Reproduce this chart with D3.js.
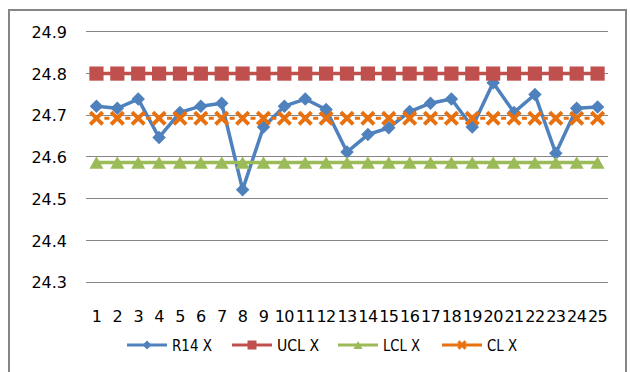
<!DOCTYPE html>
<html>
<head>
<meta charset="utf-8">
<script src="https://cdn.jsdelivr.net/npm/d3@7"></script>
<style>
  html, body { margin: 0; padding: 0; background: #fff; }
  svg { display: block; }
  svg text { font-family: "DejaVu Sans", "Liberation Sans", sans-serif; }
</style>
</head>
<body>
<svg id="chart" width="630" height="372"></svg>
<script>
// Subgroup numbers along the x axis
const categories = d3.range(1, 26).map(String);

// Measured subgroup means (R14 X)
const r14Values = [
  24.72, 24.715, 24.737, 24.645, 24.705, 24.72, 24.727, 24.52, 24.67, 24.72,
  24.737, 24.712, 24.61, 24.652, 24.668, 24.707, 24.727, 24.737, 24.67, 24.776,
  24.705, 24.748, 24.607, 24.715, 24.718
];

// Control limits, constant across subgroups
const uclValue = 24.798;
const lclValue = 24.585;
const clValue = 24.691;

const yTicks = [24.3, 24.4, 24.5, 24.6, 24.7, 24.8, 24.9];

const seriesNames = ["R14 X", "UCL X", "LCL X", "CL X"];
const seriesColors = ["#4F81BD", "#C0504D", "#9BBB59", "#E8700E"];

const series = [
  { name: seriesNames[0], color: seriesColors[0], marker: "diamond", values: r14Values },
  { name: seriesNames[1], color: seriesColors[1], marker: "square", values: categories.map(() => uclValue) },
  { name: seriesNames[2], color: seriesColors[2], marker: "triangle", values: categories.map(() => lclValue) },
  { name: seriesNames[3], color: seriesColors[3], marker: "x", values: categories.map(() => clValue), dashed: true }
];

const svg = d3.select("#chart");
const plot = { left: 86, right: 608, top: 31, bottom: 281.5 };

const x = d3.scaleBand().domain(categories).range([plot.left, plot.right]).padding(0);
const cx = c => x(c) + x.bandwidth() / 2;
const y = d3.scaleLinear().domain([24.3, 24.9]).range([plot.bottom, plot.top]);

// Outer chart frame
svg.append("rect")
  .attr("x", 9).attr("y", 10)
  .attr("width", 617).attr("height", 380)
  .attr("fill", "none")
  .attr("stroke", "#868686")
  .attr("stroke-width", 2);

// Horizontal gridlines + y tick labels
const yAxis = d3.axisLeft(y).tickValues(yTicks).tickFormat(d3.format(".1f"))
  .tickSize(-(plot.right - plot.left)).tickPadding(19);
const gy = svg.append("g").attr("transform", `translate(${plot.left},0)`).call(yAxis)
  .attr("font-family", null).attr("font-size", null);
gy.select(".domain").remove();
gy.selectAll(".tick line").attr("stroke", "#868686").attr("stroke-width", 1)
  .attr("shape-rendering", "crispEdges");
gy.selectAll(".tick text").attr("fill", "#000").style("font-size", "16px").attr("dy", "0.4em");

// Category labels
const xAxis = d3.axisBottom(x).tickSize(0).tickPadding(0);
const gx = svg.append("g").attr("transform", `translate(0,${plot.bottom})`).call(xAxis)
  .attr("font-family", null).attr("font-size", null);
gx.select(".domain").remove();
gx.selectAll(".tick text").attr("fill", "#000").style("font-size", "16px")
  .attr("y", 40).attr("dy", 0).style("letter-spacing", "-0.6px");

// Marker paths centred on (0,0)
function markerPath(type, s) {
  const p = d3.path();
  const h = s / 2;
  if (type === "diamond") {
    p.moveTo(0, -h); p.lineTo(h, 0); p.lineTo(0, h); p.lineTo(-h, 0); p.closePath();
  } else if (type === "square") {
    p.rect(-h, -h, s, s);
  } else if (type === "triangle") {
    const th = s * 0.9;
    p.moveTo(0, -th / 2); p.lineTo(h, th / 2); p.lineTo(-h, th / 2); p.closePath();
  } else {
    const k = s * 0.4;
    p.moveTo(-k, -k); p.lineTo(k, k); p.moveTo(k, -k); p.lineTo(-k, k);
  }
  return p.toString();
}
const markerSize = { diamond: 13.5, square: 14.2, triangle: 14, x: 15.5 };

const line = d3.line().x((d, i) => cx(categories[i])).y(d => y(d));

series.forEach(s => {
  const g = svg.append("g");
  const path = g.append("path")
    .datum(s.values)
    .attr("d", line)
    .attr("fill", "none")
    .attr("stroke", s.color)
    .attr("stroke-width", s.dashed ? 3 : 3.5)
    .attr("stroke-linejoin", "round");
  if (s.dashed) {
    const bw = x.bandwidth(), dash = 5;
    path.attr("stroke-dasharray", `${dash},${bw - dash}`)
      .attr("stroke-dashoffset", bw / 2 + dash / 2);
  }
  g.selectAll(".m").data(s.values).join("path")
    .attr("transform", (d, i) => `translate(${cx(categories[i])},${y(d)})`)
    .attr("d", markerPath(s.marker, markerSize[s.marker]))
    .attr("fill", s.marker === "x" ? "none" : s.color)
    .attr("stroke", s.marker === "x" ? s.color : "none")
    .attr("stroke-width", s.marker === "x" ? 3.9 : 0);
});

// Legend
const legendY = 345;
const legendX = [127, 232, 338, 442];
const legendTextWidth = [40, 42, 37, 30];
const legendMarkerSize = { diamond: 9, square: 9, triangle: 9, x: 9 };
series.forEach((s, i) => {
  const g = svg.append("g").attr("transform", `translate(${legendX[i]},${legendY})`);
  g.append("line").attr("x1", 0).attr("x2", 40).attr("y1", 0).attr("y2", 0)
    .attr("stroke", s.color).attr("stroke-width", 3);
  g.append("path").attr("transform", "translate(20,0)")
    .attr("d", markerPath(s.marker, legendMarkerSize[s.marker]))
    .attr("fill", s.marker === "x" ? "none" : s.color)
    .attr("stroke", s.marker === "x" ? s.color : "none")
    .attr("stroke-width", s.marker === "x" ? 3 : 0);
  g.append("text").attr("x", 45).attr("y", 0).attr("dy", "0.38em")
    .style("font-size", "16px").attr("fill", "#000")
    .attr("textLength", legendTextWidth[i])
    .attr("lengthAdjust", "spacingAndGlyphs")
    .text(s.name);
});
</script>
</body>
</html>
